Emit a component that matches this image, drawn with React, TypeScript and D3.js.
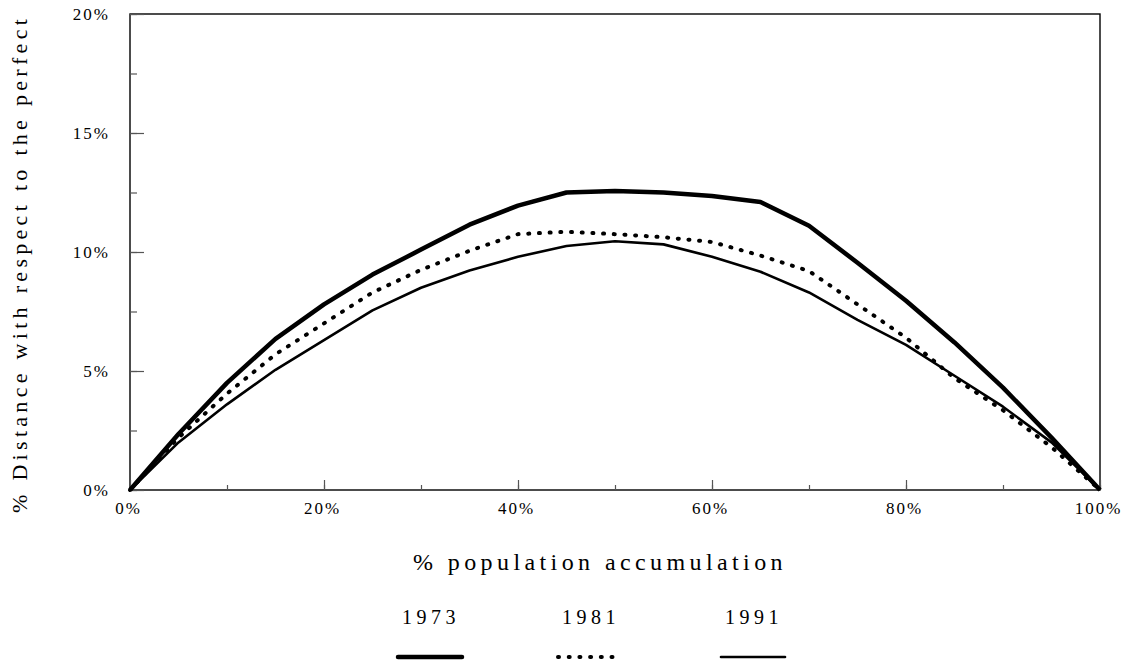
import { useEffect, useRef } from "react";
import * as d3 from "d3";

// population accumulation (%) and distance to perfect equality (%) per year
const popShare = [0, 5, 10, 15, 20, 25, 30, 35, 40, 45, 50, 55, 60, 65, 70, 75, 80, 85, 90, 95, 100];
const dist1973 = [0, 2.35, 4.5, 6.35, 7.8, 9.05, 10.1, 11.15, 11.95, 12.5, 12.56, 12.5, 12.35, 12.1, 11.1, 9.55, 7.95, 6.2, 4.3, 2.2, 0];
const dist1981 = [0, 2.2, 4.05, 5.7, 7.0, 8.3, 9.25, 10.05, 10.75, 10.85, 10.75, 10.62, 10.42, 9.85, 9.2, 7.8, 6.4, 4.7, 3.35, 1.8, 0];
const dist1991 = [0, 2.0, 3.6, 5.05, 6.3, 7.55, 8.5, 9.22, 9.8, 10.25, 10.45, 10.32, 9.8, 9.17, 8.3, 7.15, 6.1, 4.8, 3.5, 2.0, 0];

const years = ["1973", "1981", "1991"];
const xTickLabels = [0, 20, 40, 60, 80, 100];
const yTickLabels = [0, 5, 10, 15, 20];

const App = () => {
  const chartRef = useRef<SVGSVGElement>(null);

  useEffect(() => {
    const width = 1128;
    const height = 668;
    const left = 130;
    const right = 1100;
    const top = 14;
    const bottom = 490;
    const font = "Liberation Serif, DejaVu Serif, serif";

    const svg = d3.select(chartRef.current);
    svg.selectAll("*").remove();
    svg.attr("width", width).attr("height", height);

    const x = d3.scaleLinear().domain([0, 100]).range([left, right]);
    const y = d3.scaleLinear().domain([0, 20]).range([bottom, top]);

    // frame
    svg
      .append("rect")
      .attr("x", left)
      .attr("y", top)
      .attr("width", right - left)
      .attr("height", bottom - top)
      .attr("fill", "none")
      .attr("stroke", "#000")
      .attr("stroke-width", 1.4);

    // y axis: minor + major ticks pointing inward
    svg
      .append("g")
      .attr("transform", `translate(${left},0)`)
      .call(d3.axisLeft(y).tickValues(d3.range(0, 20.1, 2.5)).tickSize(-7).tickFormat(() => ""))
      .call((g) => g.select(".domain").remove())
      .call((g) => g.selectAll("line").attr("stroke", "#555").attr("stroke-width", 1.2));

    svg
      .append("g")
      .attr("transform", `translate(${left},0)`)
      .call(
        d3
          .axisLeft(y)
          .tickValues(yTickLabels)
          .tickSize(-14)
          .tickPadding(20)
          .tickFormat((d) => `${d}%`),
      )
      .call((g) => g.select(".domain").remove())
      .call((g) => g.selectAll("line").attr("stroke", "#555").attr("stroke-width", 1.2))
      .call((g) =>
        g
          .selectAll("text")
          .attr("font-family", font)
          .attr("font-size", 17)
          .attr("letter-spacing", 2)
          .attr("fill", "#000"),
      );

    // x axis
    svg
      .append("g")
      .attr("transform", `translate(0,${bottom})`)
      .call(d3.axisBottom(x).tickValues(d3.range(0, 101, 10)).tickSize(-5).tickFormat(() => ""))
      .call((g) => g.select(".domain").remove())
      .call((g) => g.selectAll("line").attr("stroke", "#555").attr("stroke-width", 1.2));

    svg
      .append("g")
      .attr("transform", `translate(0,${bottom})`)
      .call(
        d3
          .axisBottom(x)
          .tickValues(xTickLabels)
          .tickSize(-10)
          .tickPadding(12)
          .tickFormat((d) => `${d}%`),
      )
      .call((g) => g.select(".domain").remove())
      .call((g) => g.selectAll("line").attr("stroke", "#555").attr("stroke-width", 1.2))
      .call((g) =>
        g
          .selectAll("text")
          .attr("font-family", font)
          .attr("font-size", 17)
          .attr("letter-spacing", 2)
          .attr("dx", -2)
          .attr("fill", "#000"),
      );

    // axis titles
    svg
      .append("text")
      .attr("transform", `translate(27,513) rotate(-90)`)
      .attr("font-family", font)
      .attr("font-size", 22)
      .attr("letter-spacing", 4.3)
      .attr("fill", "#000")
      .text("% Distance with respect to the perfect");

    svg
      .append("text")
      .attr("x", 600)
      .attr("y", 570)
      .attr("text-anchor", "middle")
      .attr("font-family", font)
      .attr("font-size", 24)
      .attr("letter-spacing", 4.4)
      .attr("fill", "#000")
      .text("% population accumulation");

    // series
    const series = [
      { name: years[0], values: dist1973, width: 4.5, dash: null as string | null, cap: "butt" },
      { name: years[1], values: dist1981, width: 4, dash: "1 9.7", cap: "round" },
      { name: years[2], values: dist1991, width: 2.6, dash: null as string | null, cap: "butt" },
    ];

    const line = d3
      .line<number>()
      .x((_, i) => x(popShare[i]))
      .y((d) => y(d));

    series.forEach((s) => {
      svg
        .append("path")
        .datum(s.values)
        .attr("d", line)
        .attr("fill", "none")
        .attr("stroke", "#000")
        .attr("stroke-width", s.width)
        .attr("stroke-linejoin", "round")
        .attr("stroke-linecap", s.cap)
        .attr("stroke-dasharray", s.dash);
    });

    // legend
    const legendCenters = [429, 589, 752];
    series.forEach((s, i) => {
      const cx = legendCenters[i];
      svg
        .append("text")
        .attr("x", cx + 2)
        .attr("y", 624)
        .attr("text-anchor", "middle")
        .attr("font-family", font)
        .attr("font-size", 20)
        .attr("letter-spacing", 4.5)
        .attr("fill", "#000")
        .text(s.name);
      svg
        .append("line")
        .attr("x1", cx - 31)
        .attr("x2", cx + (s.dash ? 30 : 33))
        .attr("y1", 657)
        .attr("y2", 657)
        .attr("stroke", "#000")
        .attr("stroke-width", s.width)
        .attr("stroke-linecap", "round")
        .attr("stroke-dasharray", s.dash);
    });

    return () => {
      d3.select(chartRef.current).selectAll("*").remove();
    };
  }, []);

  return (
    <svg
      ref={chartRef}
      style={{ position: "absolute", left: 0, top: 0, background: "#fff" }}
    ></svg>
  );
};

export default App;
